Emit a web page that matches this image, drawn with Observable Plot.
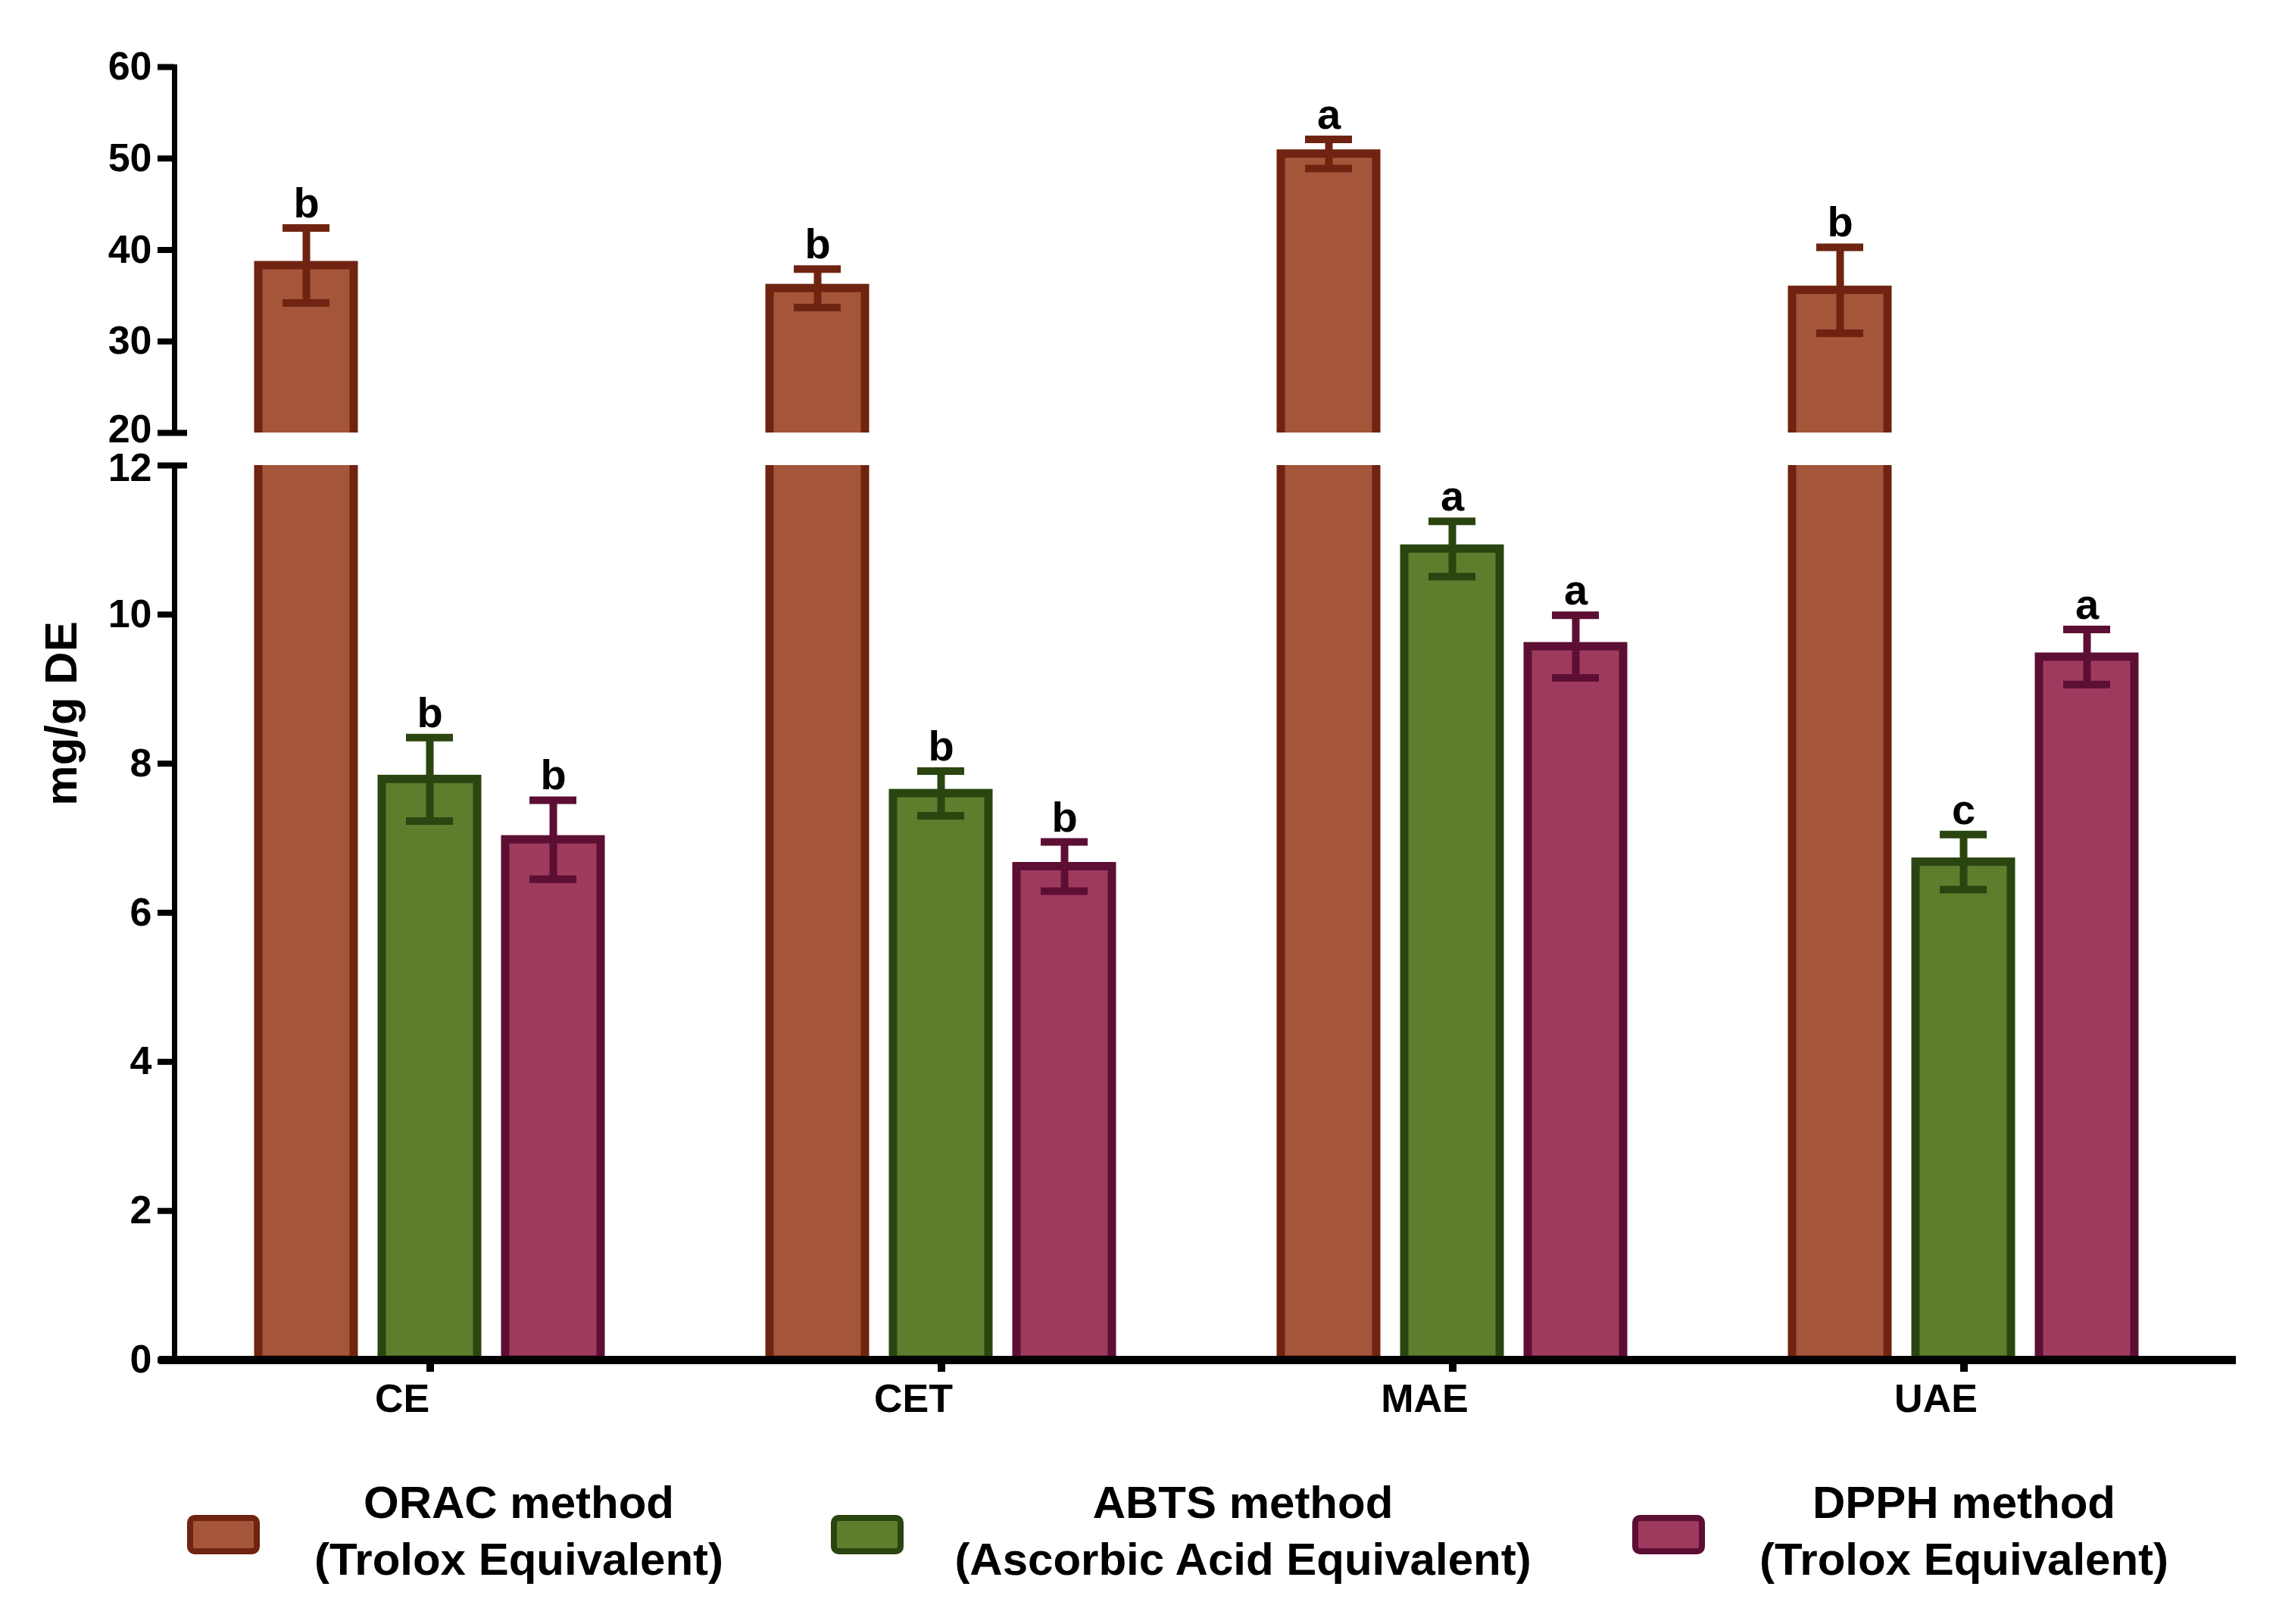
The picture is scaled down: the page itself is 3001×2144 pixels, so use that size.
<!DOCTYPE html>
<html>
<head>
<meta charset="utf-8">
<script src="https://cdn.jsdelivr.net/npm/d3@7"></script>
<script src="https://cdn.jsdelivr.net/npm/@observablehq/plot@0.6"></script>
<style>
  body { margin: 0; background: #fff; }
  #chart { position: relative; width: 3001px; height: 2144px; font-family: "Liberation Sans", Arial, sans-serif; font-weight: bold; color: #000; }
  #ylabel { position: absolute; left: 80px; top: 942px; transform: translate(-50%, -50%) rotate(-90deg); font-size: 60px; white-space: nowrap; }
  #legend { position: relative; height: 244px; }
  .sw { position: absolute; top: 100px; width: 80px; height: 36px; border-radius: 10px; border-style: solid; border-width: 8px; }
  .lt { position: absolute; top: 46px; width: 900px; text-align: center; font-size: 60px; line-height: 75px; }
  svg { display: block; }
</style>
</head>
<body>
<div id="chart">
  <div id="top"></div>
  <div id="bottom"></div>
  <div id="legend"></div>
  <div id="ylabel">mg/g DE</div>
</div>
<script>
var groups = ["CE", "CET", "MAE", "UAE"];
var methods = ["ORAC", "ABTS", "DPPH"];

var oracMean = [38.3, 35.8, 50.5, 35.6];
var oracErr = [4.1, 2.1, 1.6, 4.7];
var oracLetter = ["b", "b", "a", "b"];

var abtsMean = [7.79, 7.6, 10.88, 6.68];
var abtsErr = [0.56, 0.3, 0.37, 0.37];
var abtsLetter = ["b", "b", "a", "c"];

var dpphMean = [6.98, 6.62, 9.57, 9.43];
var dpphErr = [0.53, 0.33, 0.42, 0.37];
var dpphLetter = ["b", "b", "a", "a"];

var legendLine1 = ["ORAC method", "ABTS method", "DPPH method"];
var legendLine2 = ["(Trolox Equivalent)", "(Ascorbic Acid Equivalent)", "(Trolox Equivalent)"];

var fills = ["#a5553a", "#5f7d2d", "#9f3a5f"];
var strokes = ["#6e2410", "#2b4510", "#5c0f33"];

var means = [oracMean, abtsMean, dpphMean];
var errs = [oracErr, abtsErr, dpphErr];
var letters = [oracLetter, abtsLetter, dpphLetter];

var rows = groups.flatMap((g, i) => methods.map((m, j) => ({
  group: g, method: m, mean: means[j][i], err: errs[j][i], letter: letters[j][i]
})));

var W = 3001, mL = 230, mR = 71;
var facetW = (W - mL - mR) / groups.length;
var font = "'Liberation Sans', Arial, sans-serif";

// bars for every series named in barsFor; error bars and letters only where showErr says so
function seriesMarks(barsFor, showErr) {
  var marks = [];
  methods.forEach(function (m, j) {
    if (!barsFor(m)) return;
    var sub = rows.filter(r => r.method === m);
    marks.push(Plot.barY(sub, { fx: "group", x: "method", y: "mean", fill: fills[j], stroke: strokes[j], strokeWidth: 11, clip: true }));
    if (!showErr(m)) return;
    marks.push(
      Plot.ruleX(sub, { fx: "group", x: "method", y1: d => d.mean - d.err, y2: d => d.mean + d.err, stroke: strokes[j], strokeWidth: 10 }),
      Plot.tickY(sub, { fx: "group", x: "method", y: d => d.mean + d.err, stroke: strokes[j], strokeWidth: 10, insetLeft: 32, insetRight: 32 }),
      Plot.tickY(sub, { fx: "group", x: "method", y: d => d.mean - d.err, stroke: strokes[j], strokeWidth: 10, insetLeft: 32, insetRight: 32 }),
      Plot.text(sub, { fx: "group", x: "method", y: d => d.mean + d.err, text: "letter", lineAnchor: "bottom", dy: -14, fontSize: 56, fontWeight: "bold", fill: "#000" })
    );
  });
  return marks;
}

var common = {
  width: W,
  marginLeft: mL,
  marginRight: mR,
  style: { fontFamily: font, fontWeight: "bold", overflow: "visible", background: "white" },
  fx: { domain: groups, padding: 0 },
  x: { domain: methods, paddingInner: 0.226, paddingOuter: 0.683, axis: null }
};

// upper part of the broken axis: 20 to 60
var topChart = Plot.plot(Object.assign({}, common, {
  height: 593,
  marginTop: 88,
  marginBottom: 22,
  y: { domain: [20, 60] },
  fx: { domain: groups, padding: 0, axis: null },
  marks: [
    ...seriesMarks(m => m === "ORAC", m => true),
    Plot.frame({ anchor: "left", facetAnchor: "left", stroke: "#000", strokeWidth: 7 }),
    Plot.ruleY([20], { facetAnchor: "left", insetLeft: -22, insetRight: facetW - 17, stroke: "#000", strokeWidth: 8 }),
    Plot.axisY({ ticks: [30, 40, 50, 60], tickSize: 22, tickPadding: 8, strokeWidth: 8, fontSize: 52, fontWeight: "bold", label: null }),
    Plot.axisY({ ticks: [20], tickSize: 0, tickPadding: 30, dy: -4, fontSize: 52, fontWeight: "bold", label: null })
  ]
}));

// lower part: 0 to 12
var bottomChart = Plot.plot(Object.assign({}, common, {
  height: 1307,
  marginTop: 21,
  marginBottom: 105,
  y: { domain: [0, 12] },
  marks: [
    ...seriesMarks(m => true, m => m !== "ORAC"),
    Plot.ruleY([0], { stroke: "#000", strokeWidth: 11, insetLeft: -20, insetRight: -22 }),
    Plot.frame({ anchor: "left", facetAnchor: "left", stroke: "#000", strokeWidth: 7 }),
    Plot.ruleY([12], { facetAnchor: "left", insetLeft: -22, insetRight: facetW - 17, stroke: "#000", strokeWidth: 8 }),
    Plot.axisY({ ticks: [0, 2, 4, 6, 8, 10], tickSize: 22, tickPadding: 8, strokeWidth: 8, fontSize: 52, fontWeight: "bold", label: null }),
    Plot.axisY({ ticks: [12], tickSize: 0, tickPadding: 30, dy: 4, fontSize: 52, fontWeight: "bold", label: null }),
    Plot.axisFx({ anchor: "bottom", tickSize: 16, strokeWidth: 10, tickFormat: () => "", label: null }),
    Plot.axisFx({ anchor: "bottom", tickSize: 0, tickPadding: 32, dx: -37, fontSize: 52, fontWeight: "bold", label: null })
  ]
}));

document.getElementById("top").append(topChart);
document.getElementById("bottom").append(bottomChart);

// legend below the chart
var swatchLeft = [247, 1097, 2155];
var textCenter = [685, 1641, 2593];
var legend = d3.select("#legend");
methods.forEach(function (m, j) {
  legend.append("div").attr("class", "sw")
    .style("left", swatchLeft[j] + "px")
    .style("background", fills[j])
    .style("border-color", strokes[j]);
  legend.append("div").attr("class", "lt")
    .style("left", (textCenter[j] - 450) + "px")
    .html(legendLine1[j] + "<br>" + legendLine2[j]);
});
</script>
</body>
</html>
